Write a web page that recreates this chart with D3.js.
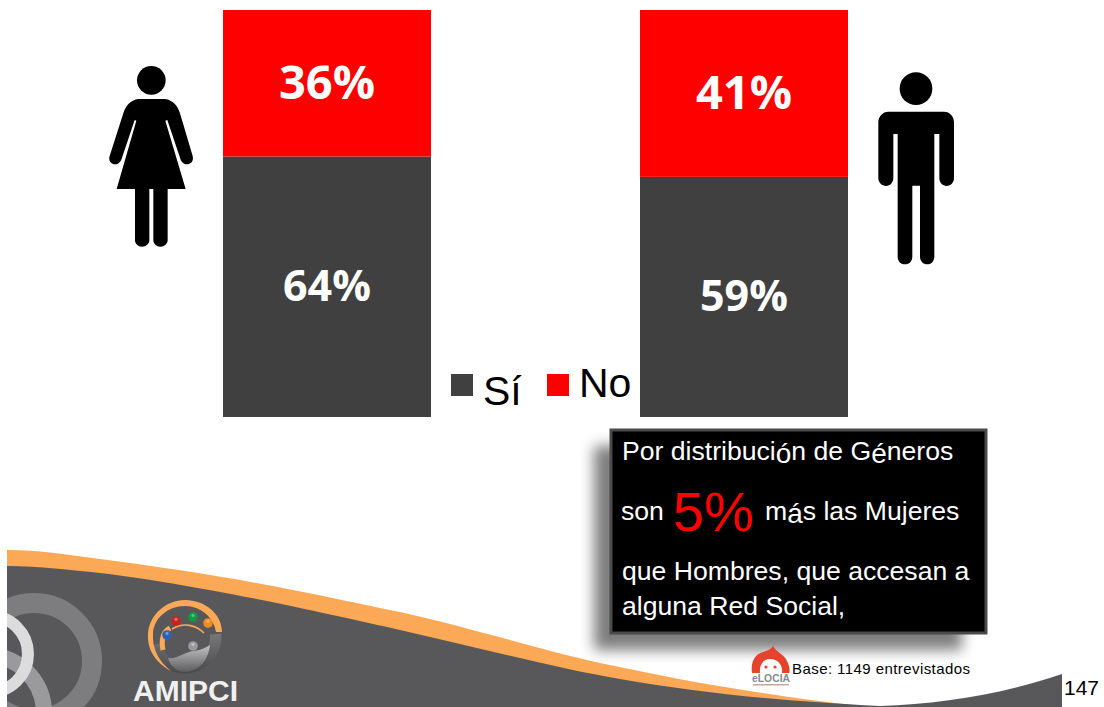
<!DOCTYPE html>
<html>
<head>
<meta charset="utf-8">
<script src="https://cdn.jsdelivr.net/npm/d3@7"></script>
<style>html,body{margin:0;padding:0;background:#fff}svg{display:block}text{font-family:"Liberation Sans",Arial,sans-serif}</style>
</head>
<body>
<div id="chart"></div>
<script>
const categories = ["Mujeres", "Hombres"];
const seriesNames = ["Sí", "No"];
const siValues = [64, 59];
const noValues = [36, 41];
const seriesColors = ["#404040", "#ff0000"];
const boxLines = ["Por distribución de Géneros", "que Hombres, que accesan a", "alguna Red Social,"];

const svg = d3.select("#chart").append("svg").attr("width", 1104).attr("height", 707);
const defs = svg.append("defs");
defs.append("filter").attr("id", "blur").attr("x", "-20%").attr("y", "-20%").attr("width", "140%").attr("height", "140%")
  .append("feGaussianBlur").attr("stdDeviation", 7);
defs.append("clipPath").attr("id", "bandClip").append("rect").attr("x", 7).attr("y", 540).attr("width", 1060).attr("height", 167);
const dome = defs.append("linearGradient").attr("id", "dome").attr("x1", 0).attr("y1", 0).attr("x2", 0).attr("y2", 1);
dome.append("stop").attr("offset", "0%").attr("stop-color", "#c4c4c4");
dome.append("stop").attr("offset", "100%").attr("stop-color", "#5c5c5e");
const ringGrad = defs.append("linearGradient").attr("id", "ringG").attr("x1", 0).attr("y1", 0).attr("x2", 0).attr("y2", 1);
ringGrad.append("stop").attr("offset", "0%").attr("stop-color", "#77777a");
ringGrad.append("stop").attr("offset", "100%").attr("stop-color", "#4a4a4c");

/* footer band */
const band = svg.append("g").attr("clip-path", "url(#bandClip)");
band.append("path").attr("fill", "#fba857")
  .attr("d", "M7,550 C40,550 70,555 100,559 C160,567 215,575 267,585 C320,595 360,604 400,612 C480,630 540,650 600,663 C680,680 760,695 870,707 L7,707 Z");
band.append("path").attr("fill", "#58585a")
  .attr("d", "M7,566 C40,566 70,570 100,573 C150,579 200,588 267,601 C320,612 360,621 400,630 C480,648 560,669 620,679 C700,693 780,701 880,706 C940,704 1000,695 1062,674 L1062,707 L7,707 Z");
band.append("circle").attr("cx", 34).attr("cy", 661).attr("r", 58).attr("fill", "none").attr("stroke", "#7d7d7f").attr("stroke-width", 20);
band.append("circle").attr("cx", -14).attr("cy", 713).attr("r", 58).attr("fill", "none").attr("stroke", "#9a9a9c").attr("stroke-width", 16);
band.append("circle").attr("cx", -10).attr("cy", 654).attr("r", 38).attr("fill", "none").attr("stroke", "#dcdcdd").attr("stroke-width", 12);

/* AMIPCI logo */
const logo = svg.append("g");
logo.append("path").attr("transform", "translate(185,637)").attr("fill", "url(#ringG)")
  .attr("d", d3.arc().innerRadius(25).outerRadius(36.5).startAngle(Math.PI * 0.47).endAngle(Math.PI * 1.42)());
logo.append("path").attr("fill", "#fba857")
  .attr("d", "M171,671 C156,663 147,650 148,634 C149,615 166,600 185,600 C205,600 222,614 222,632 L216,632 C214,618 201,606 185,606 C168,606 154,618 153,633 C152,648 158,661 171,671 Z");
logo.append("path").attr("fill", "none").attr("stroke", "#fba857").attr("stroke-width", 5)
  .attr("d", "M163,650 C161,640 163,632 170,628");
logo.append("path").attr("fill", "none").attr("stroke", "#fba857").attr("stroke-width", 1.6)
  .attr("d", "M172,629 C184,622 196,625 204,633");
logo.append("path").attr("fill", "url(#dome)")
  .attr("d", "M168,658 C176,660 184,652 194,651 C201,650 207,647 210,645 C208,663 196,672 185,672 C177,672 170,666 168,658 Z");
const balls = [[167, 635, "#2a62b8"], [176, 621, "#c8241f"], [193, 617, "#0f9b45"], [208, 623, "#f08a24"], [193, 646, "#9a9a9a"]];
balls.forEach(b => {
  logo.append("circle").attr("cx", b[0]).attr("cy", b[1]).attr("r", 4.8).attr("fill", b[2]);
  logo.append("circle").attr("cx", b[0]).attr("cy", b[1] - 1.6).attr("r", 1.6).attr("fill", "#fff").attr("opacity", 0.35);
});
logo.append("text").attr("x", 133).attr("y", 701).attr("font-size", 29).attr("font-weight", 700)
  .attr("fill", "#f0f0f0").attr("textLength", 105).attr("lengthAdjust", "spacingAndGlyphs").text("AMIPCI");

/* stacked bars */
const y = d3.scaleLinear().domain([0, 100]).range([417, 10]);
const rows = categories.map((c, i) => ({ cat: c, "Sí": siValues[i], "No": noValues[i] }));
const stack = d3.stack().keys(seriesNames)(rows);
const barW = 208;
const barX = d3.scaleOrdinal().domain(categories).range([223, 640]);
const labelSize = { "Sí": 43, "No": 47 };
const labelShift = { "Sí": 14, "No": 16 };
const layers = svg.selectAll("g.layer").data(stack).join("g").attr("class", "layer").attr("fill", (d, i) => seriesColors[i]);
layers.selectAll("rect").data(d => d).join("rect")
  .attr("x", d => barX(d.data.cat)).attr("width", barW)
  .attr("y", d => y(d[1])).attr("height", d => y(d[0]) - y(d[1]));
layers.selectAll("text").data(d => d.map(v => ({ v, key: d.key }))).join("text")
  .attr("x", d => barX(d.v.data.cat) + barW / 2)
  .attr("y", d => (y(d.v[0]) + y(d.v[1])) / 2 + labelShift[d.key])
  .attr("text-anchor", "middle").attr("fill", "#fff").attr("font-weight", 700)
  .attr("font-size", d => labelSize[d.key])
  .style("font-family", '"Open Sans",sans-serif')
  .text(d => (d.v[1] - d.v[0]) + "%");

/* legend */
const legendPos = [{ sx: 451, tx: 483, ty: 405 }, { sx: 547, tx: 579, ty: 397 }];
const legend = svg.selectAll("g.leg").data(seriesNames).join("g").attr("class", "leg");
legend.append("rect").attr("x", (d, i) => legendPos[i].sx).attr("y", 374).attr("width", 22).attr("height", 22).attr("fill", (d, i) => seriesColors[i]);
legend.append("text").attr("x", (d, i) => legendPos[i].tx).attr("y", (d, i) => legendPos[i].ty).attr("font-size", 41).attr("fill", "#000").text(d => d);

/* woman icon */
const woman = svg.append("g").attr("transform", "translate(90,50) scale(0.3333)").attr("fill", "#000");
woman.append("circle").attr("cx", 184).attr("cy", 91).attr("r", 43);
woman.append("path").attr("d", "M145,147 L225,147 C248,150 264,168 270,190 L308,318 C312,334 302,343 291,343 C282,343 274,336 271,326 L232,210 L226,212 L287,417 L80,417 L139,212 L134,210 L95,326 C92,336 84,343 76,343 C64,343 54,332 59,318 L100,190 C106,168 122,150 145,147 Z");
woman.append("path").attr("d", "M135,417 L178,417 L178,570 C178,582 168,590 156,590 C144,590 135,582 135,570 Z");
woman.append("path").attr("d", "M190,417 L233,417 L233,570 C233,582 223,590 211,590 C199,590 190,582 190,570 Z");

/* man icon */
const man = svg.append("g").attr("transform", "translate(860,60) scale(0.3333)").attr("fill", "#000");
man.append("circle").attr("cx", 168).attr("cy", 86).attr("r", 49);
man.append("path").attr("d", "M85,155 L252,155 C270,155 282,170 282,187 L282,355 C282,368 272,378 260,378 C248,378 238,368 238,355 L238,222 L223,222 L223,590 C223,603 214,613 202,613 C190,613 180,603 180,590 L180,377 L157,377 L157,590 C157,603 148,613 135,613 C122,613 113,603 113,590 L113,222 L100,222 L100,355 C100,368 90,378 78,378 C66,378 55,368 55,355 L55,187 C55,170 68,155 85,155 Z");

/* callout: accented letters sit a little lower, as in the reference */
function writeLine(sel, s) {
  let lowered = false;
  s.split(/([óéá])/).filter(p => p.length).forEach(p => {
    const accent = /^[óéá]$/.test(p);
    const t = sel.append("tspan").text(p);
    if (accent) { t.attr("dy", 3).attr("font-size", 28); lowered = true; }
    else if (lowered) { t.attr("dy", -3); lowered = false; }
  });
}
svg.append("rect").attr("x", 594).attr("y", 446).attr("width", 368).attr("height", 204).attr("fill", "#4c4c4c").attr("opacity", 0.72).attr("filter", "url(#blur)");
svg.append("rect").attr("x", 611).attr("y", 430).attr("width", 375).attr("height", 203).attr("fill", "#000").attr("stroke", "#4a4a4a").attr("stroke-width", 3);
const boxText = svg.append("g").attr("fill", "#fff").attr("font-size", 26.6);
boxText.selectAll("text.line").data(boxLines).join("text").attr("class", "line")
  .attr("x", 622).attr("y", (d, i) => [460, 580, 615][i]).each(function (d) { writeLine(d3.select(this), d); });
boxText.append("text").attr("x", 621).attr("y", 520).text("son");
boxText.append("text").attr("x", 673).attr("y", 531).attr("font-size", 56).attr("fill", "#ff0000").text("5%");
writeLine(boxText.append("text").attr("x", 765).attr("y", 520), "más las Mujeres");

/* eLocia mark and base note */
const el = svg.append("g");
el.append("path").attr("fill", "#e5432c")
  .attr("d", "M773,646 C776,652 784,654 787,661 C790,667 790,672 789,673 L752,673 C751,666 752,660 757,655 C762,651 769,652 773,646 Z");
el.append("path").attr("fill", "#fff").attr("d", "M760,673 C759,664 764,659 770,659 C778,659 783,665 782,673 Z");
el.append("circle").attr("cx", 766).attr("cy", 667).attr("r", 1.6).attr("fill", "#e5432c");
el.append("circle").attr("cx", 775).attr("cy", 667).attr("r", 1.6).attr("fill", "#e5432c");
el.append("text").attr("x", 752).attr("y", 682).attr("font-size", 10).attr("fill", "#8a8a8a").attr("font-weight", 700).attr("textLength", 38).attr("lengthAdjust", "spacingAndGlyphs").text("eLOCIA");
el.append("rect").attr("x", 753).attr("y", 684).attr("width", 36).attr("height", 1.5).attr("fill", "#c9a79e");
svg.append("text").attr("x", 792).attr("y", 674).attr("font-size", 15).attr("fill", "#000")
  .attr("textLength", 178).attr("lengthAdjust", "spacing").text("Base: 1149 entrevistados");
svg.append("text").attr("x", 1064).attr("y", 695).attr("font-size", 21).attr("fill", "#000").text("147");
</script>
</body>
</html>
